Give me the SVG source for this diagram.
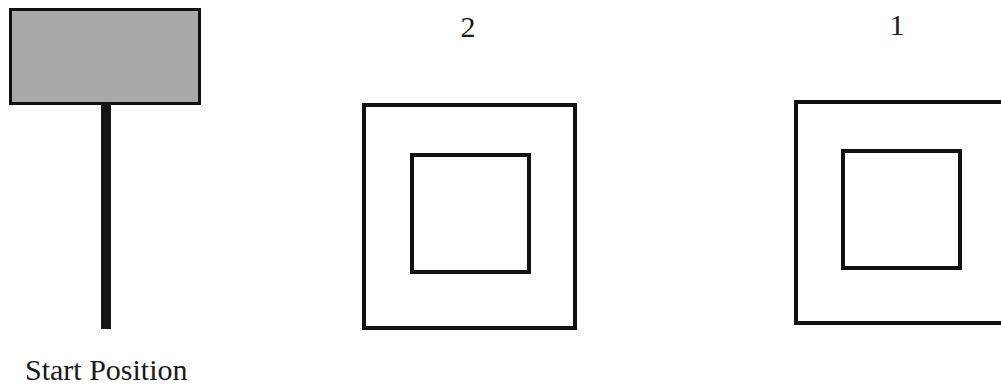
<svg xmlns="http://www.w3.org/2000/svg" width="1001" height="385" viewBox="0 0 1001 385">
<style>
.lbl{font-family:"Liberation Serif","Times New Roman",serif;font-size:30px;fill:#1a1a1a}
.sq{fill:none;stroke:#111;stroke-width:4}
</style>
<rect width="1001" height="385" fill="#fff"/>
<g id="start">
<rect x="10.5" y="9.5" width="189" height="94" fill="#a9a9a9" stroke="#111" stroke-width="3"/>
<rect x="101" y="103" width="10" height="226" fill="#151515"/>
<text class="lbl" x="25" y="380">Start Position</text>
</g>
<g id="target2">
<text class="lbl" x="468" y="37" text-anchor="middle">2</text>
<rect class="sq" x="364" y="105" width="211" height="223"/>
<rect class="sq" x="412" y="155" width="117" height="117"/>
</g>
<g id="target1">
<text class="lbl" x="897" y="35" text-anchor="middle">1</text>
<rect class="sq" x="796" y="102" width="220" height="221"/>
<rect class="sq" x="843" y="151" width="117" height="117"/>
</g>
<g id="connectors"></g>
</svg>
